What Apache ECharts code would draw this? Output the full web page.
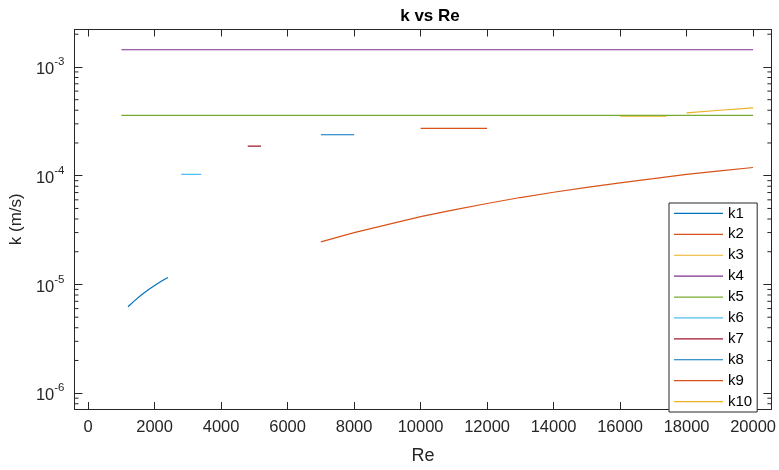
<!DOCTYPE html>
<html>
<head>
<meta charset="utf-8">
<script src="https://cdn.jsdelivr.net/npm/echarts@6/dist/echarts.min.js"></script>
<style>
  html, body { margin: 0; padding: 0; background: #ffffff; }
  #chart { width: 779px; height: 470px; }
</style>
</head>
<body>
<div id="chart"></div>
<script>
// Mass-transfer coefficient k (m/s) against Reynolds number, ten correlations.
const seriesNames = ['k1', 'k2', 'k3', 'k4', 'k5', 'k6', 'k7', 'k8', 'k9', 'k10'];
const seriesColors = ['#0072BD', '#D95319', '#EDB120', '#7E2F8E', '#77AC30',
                      '#4DBEEE', '#A2142F', '#0072BD', '#D95319', '#EDB120'];

const k1Re  = [1200, 1400, 1600, 1800, 2000, 2200, 2400];
const k1Val = [6.24e-6, 7.1e-6, 8.0e-6, 8.9e-6, 9.8e-6, 10.7e-6, 11.6e-6];

const k2Re  = [10000, 12000];
const k2Val = [2.72e-4, 2.72e-4];

const k3Re  = [16000, 17400];
const k3Val = [3.53e-4, 3.53e-4];

const k4Re  = [1000, 20000];
const k4Val = [1.44e-3, 1.44e-3];

const k5Re  = [1000, 20000];
const k5Val = [3.59e-4, 3.59e-4];

const k6Re  = [2800, 3400];
const k6Val = [1.03e-4, 1.03e-4];

const k7Re  = [4800, 5200];
const k7Val = [1.87e-4, 1.87e-4];

const k8Re  = [7000, 8000];
const k8Val = [2.38e-4, 2.38e-4];

const k9Re  = [7000, 8000, 9000, 10000, 11000, 12000, 13000, 14000,
               15000, 16000, 17000, 18000, 19000, 20000];
const k9Val = [2.46e-5, 3.0e-5, 3.55e-5, 4.2e-5, 4.85e-5, 5.55e-5, 6.3e-5, 7.05e-5,
               7.8e-5, 8.6e-5, 9.4e-5, 1.03e-4, 1.11e-4, 1.19e-4];

const k10Re  = [18000, 19000, 20000];
const k10Val = [3.79e-4, 4.0e-4, 4.21e-4];

const seriesRe  = [k1Re, k2Re, k3Re, k4Re, k5Re, k6Re, k7Re, k8Re, k9Re, k10Re];
const seriesVal = [k1Val, k2Val, k3Val, k4Val, k5Val, k6Val, k7Val, k8Val, k9Val, k10Val];

// Axis ranges
const reMin = -410, reMax = 20550;
const kMin = 7.16e-7, kMax = 2.21e-3;

// Minor ticks on the log axis: 2..9 within each decade
const minorMantissas = [2, 3, 4, 5, 6, 7, 8, 9];
const minorDecades = [-7, -6, -5, -4, -3];
const minorTicks = [];
minorDecades.forEach(function (d) {
  minorMantissas.forEach(function (m) {
    const v = m * Math.pow(10, d);
    if (v > kMin && v < kMax) minorTicks.push(v);
  });
});

const ink = '#262626';
const fontFamily = '"Liberation Sans", Arial, Helvetica, sans-serif';

const chart = echarts.init(document.getElementById('chart'), null, { renderer: 'canvas' });

const lineSeries = seriesNames.map(function (name, i) {
  return {
    name: name,
    type: 'line',
    xAxisIndex: 0,
    yAxisIndex: 0,
    data: seriesRe[i].map(function (re, j) { return [re, seriesVal[i][j]]; }),
    showSymbol: false,
    symbol: 'none',
    smooth: false,
    color: seriesColors[i],
    lineStyle: { width: 1.2, color: seriesColors[i] },
    emphasis: { disabled: true },
    animation: false,
    z: 3
  };
});

const minorTickSeries = {
  type: 'custom',
  xAxisIndex: 0,
  yAxisIndex: 0,
  data: minorTicks.map(function (v) { return [reMin, v]; }),
  silent: true,
  animation: false,
  clip: false,
  z: 4,
  renderItem: function (params, api) {
    const v = api.value(1);
    const left = api.coord([reMin, v]);
    const right = api.coord([reMax, v]);
    const len = 4;
    return {
      type: 'group',
      children: [
        { type: 'line', shape: { x1: left[0], y1: left[1], x2: left[0] + len, y2: left[1] },
          style: { stroke: ink, lineWidth: 1 } },
        { type: 'line', shape: { x1: right[0], y1: right[1], x2: right[0] - len, y2: right[1] },
          style: { stroke: ink, lineWidth: 1 } }
      ]
    };
  }
};

function reLabel(v) {
  return (Math.abs(v % 2000) < 1e-6) ? String(v) : '';
}
function kLabel(v) {
  const e = Math.log10(v);
  const r = Math.round(e);
  if (Math.abs(e - r) > 1e-6) return '';
  return '{b|10}{s|' + r + '}';
}

const option = {
  backgroundColor: '#ffffff',
  animation: false,
  title: {
    text: 'k vs Re',
    left: 425,
    top: 3,
    textAlign: 'center',
    textStyle: { fontFamily: fontFamily, fontSize: 17, fontWeight: 'bold', color: '#000000' }
  },
  grid: { left: 73.5, right: 3, top: 29.5, bottom: 54, containLabel: false },
  legend: {
    data: seriesNames,
    orient: 'vertical',
    left: 669,
    top: 203,
    width: 89,
    padding: [0, 5, 0, 5],
    itemGap: 0,
    itemWidth: 49,
    itemHeight: 1.2,
    icon: 'rect',
    backgroundColor: '#ffffff',
    borderColor: ink,
    borderWidth: 1,
    selectedMode: false,
    textStyle: { fontFamily: fontFamily, fontSize: 15, color: '#000000', lineHeight: 20.9 }
  },
  xAxis: [
    {
      type: 'value',
      position: 'bottom',
      min: reMin,
      max: reMax,
      splitNumber: 10,
      name: 'Re',
      nameLocation: 'middle',
      nameGap: 38,
      nameTextStyle: { fontFamily: fontFamily, fontSize: 18, color: ink },
      axisLine: { show: true, onZero: false, lineStyle: { color: ink, width: 1 } },
      axisTick: { show: true, inside: true, length: 7, lineStyle: { color: ink } },
      axisLabel: { show: true, margin: 10, formatter: reLabel, showMinLabel: false, showMaxLabel: false,
                   fontFamily: fontFamily, fontSize: 16.5, color: ink },
      splitLine: { show: false }
    },
    {
      type: 'value',
      position: 'top',
      min: reMin,
      max: reMax,
      splitNumber: 10,
      axisLine: { show: true, onZero: false, lineStyle: { color: ink, width: 1 } },
      axisTick: { show: true, inside: true, length: 7, lineStyle: { color: ink } },
      axisLabel: { show: false },
      splitLine: { show: false }
    }
  ],
  yAxis: [
    {
      type: 'log',
      logBase: 10,
      position: 'left',
      min: kMin,
      max: kMax,
      name: 'k (m/s)',
      nameLocation: 'middle',
      nameGap: 41,
      nameTextStyle: { fontFamily: fontFamily, fontSize: 17, color: ink },
      axisLine: { show: true, onZero: false, lineStyle: { color: ink, width: 1 } },
      axisTick: { show: true, inside: true, length: 8, lineStyle: { color: ink } },
      axisLabel: {
        show: true, margin: 10, formatter: kLabel, showMinLabel: false, showMaxLabel: false,
        rich: {
          b: { fontFamily: fontFamily, fontSize: 16.5, color: ink, lineHeight: 22, verticalAlign: 'bottom' },
          s: { fontFamily: fontFamily, fontSize: 11.5, color: ink, lineHeight: 12, verticalAlign: 'top' }
        }
      },
      splitLine: { show: false }
    },
    {
      type: 'log',
      logBase: 10,
      position: 'right',
      min: kMin,
      max: kMax,
      axisLine: { show: true, onZero: false, lineStyle: { color: ink, width: 1 } },
      axisTick: { show: true, inside: true, length: 8, lineStyle: { color: ink } },
      axisLabel: { show: false },
      splitLine: { show: false }
    }
  ],
  series: lineSeries.concat([minorTickSeries])
};

chart.setOption(option);
</script>
</body>
</html>
